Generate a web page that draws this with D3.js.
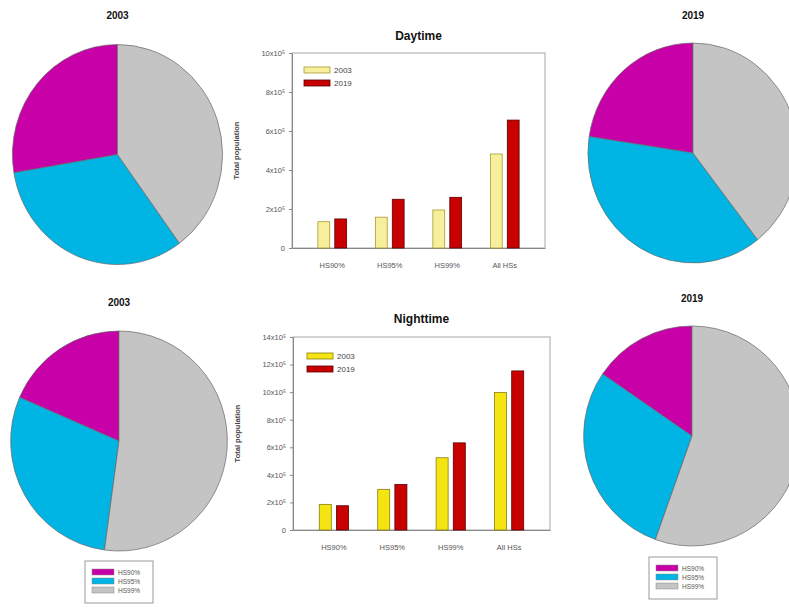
<!DOCTYPE html>
<html>
<head>
<meta charset="utf-8">
<script src="https://cdn.jsdelivr.net/npm/d3@7"></script>
<style>
  html, body { margin: 0; padding: 0; background: #fff; }
  svg { display: block; font-family: "Liberation Sans", Arial, sans-serif; }
</style>
</head>
<body>
<svg id="chart" width="789" height="609"></svg>
<script>
// Heat-stress zones and the two survey years
const categories = ["HS90%", "HS95%", "HS99%", "All HSs"];
const years = ["2003", "2019"];
const zones = ["HS90%", "HS95%", "HS99%"];

// Exposed population (x10^5) per zone
const day2003 = [1.35, 1.58, 1.95, 4.82];
const day2019 = [1.49, 2.50, 2.60, 6.56];
const night2003 = [1.86, 2.95, 5.24, 9.97];
const night2019 = [1.76, 3.31, 6.32, 11.54];

const dayTicks = [0, 2, 4, 6, 8, 10];
const nightTicks = [0, 2, 4, 6, 8, 10, 12, 14];

const zoneColors = ["#c800a8", "#00b4e4", "#c4c4c4"];

const svg = d3.select("#chart");

// ---------- pie charts: shares of each zone (the first three categories) ----------
function drawPie(cx, cy, r, sx, values, title, titleY) {
  const g = svg.append("g").attr("transform", `translate(${cx},${cy}) scale(${sx},1)`);
  // counter-clockwise from 12 o'clock: HS90% first
  const pie = d3.pie().sort(null).startAngle(0).endAngle(-2 * Math.PI);
  const arc = d3.arc().innerRadius(0).outerRadius(r);
  g.selectAll("path")
    .data(pie(values.slice(0, 3)))
    .join("path")
    .attr("d", arc)
    .attr("fill", (d, i) => zoneColors[i])
    .attr("stroke", "#666")
    .attr("stroke-width", 0.7);
  svg.append("text")
    .attr("x", cx).attr("y", titleY)
    .attr("text-anchor", "middle")
    .attr("font-size", 10).attr("font-weight", "bold")
    .attr("fill", "#111")
    .text(title);
}

drawPie(117.5, 154.5, 110, 0.955, day2003, "2003", 19);
drawPie(693, 153, 110, 0.955, day2019, "2019", 19);
drawPie(119, 441, 110, 0.985, night2003, "2003", 306);
drawPie(692, 436, 110, 0.985, night2019, "2019", 302);

// ---------- pie legends ----------
function drawPieLegend(x, y) {
  const g = svg.append("g").attr("transform", `translate(${x},${y})`);
  g.append("rect").attr("width", 68).attr("height", 42)
    .attr("fill", "#fff").attr("stroke", "#999").attr("stroke-width", 1);
  zones.forEach((z, i) => {
    g.append("rect").attr("x", 7).attr("y", 8 + i * 9).attr("width", 22).attr("height", 6)
      .attr("fill", zoneColors[i]).attr("stroke", "#888").attr("stroke-width", 0.5);
    g.append("text").attr("x", 33).attr("y", 14 + i * 9)
      .attr("font-size", 6.5).attr("fill", "#555").text(z);
  });
}
drawPieLegend(85, 561);
drawPieLegend(649, 557);

// ---------- grouped bar charts ----------
function drawBars(opts) {
  const { left, right, top, bottom, max, ticks, v2003, v2019, title, titleY, yellow, yellowStroke, legendY, legendX } = opts;
  const g = svg.append("g");

  const x0 = d3.scaleBand().domain(categories).range([left, right])
    .paddingInner(0.5).paddingOuter(0.45);
  const x1 = d3.scaleBand().domain(years).range([0, x0.bandwidth()]).paddingInner(0.3);
  const y = d3.scaleLinear().domain([0, max]).range([bottom, top]);

  // frame
  g.append("rect").attr("x", left).attr("y", top)
    .attr("width", right - left).attr("height", bottom - top)
    .attr("fill", "none").attr("stroke", "#a8a8a8").attr("stroke-width", 1);

  // y axis
  const yAxis = d3.axisLeft(y).tickValues(ticks).tickSize(3).tickPadding(4)
    .tickFormat(d => d === 0 ? "0" : d + "x10\u2075");
  const ya = g.append("g").attr("transform", `translate(${left},0)`).call(yAxis);
  ya.select(".domain").attr("stroke", "#888");
  ya.selectAll(".tick line").attr("stroke", "#888");
  ya.selectAll("text").attr("font-size", 7.5).attr("fill", "#555");

  // x axis labels
  const xAxis = d3.axisBottom(x0).tickSize(0).tickPadding(15);
  const xa = g.append("g").attr("transform", `translate(0,${bottom})`).call(xAxis);
  xa.select(".domain").attr("stroke", "#888");
  xa.selectAll("text").attr("font-size", 7.5).attr("fill", "#555");

  // bars
  const rows = categories.map((c, i) => ({ cat: c, vals: [v2003[i], v2019[i]] }));
  const grp = g.selectAll(".grp").data(rows).join("g")
    .attr("transform", d => `translate(${x0(d.cat)},0)`);
  grp.selectAll("rect")
    .data(d => d.vals.map((v, k) => ({ year: years[k], v })))
    .join("rect")
    .attr("x", d => x1(d.year))
    .attr("y", d => y(d.v))
    .attr("width", x1.bandwidth())
    .attr("height", d => bottom - y(d.v))
    .attr("fill", d => d.year === "2003" ? yellow : "#c80000")
    .attr("stroke", d => d.year === "2003" ? yellowStroke : "#5a0000")
    .attr("stroke-width", 0.8);

  // title
  svg.append("text").attr("x", (left + right) / 2).attr("y", titleY)
    .attr("text-anchor", "middle").attr("font-size", 12).attr("font-weight", "bold")
    .attr("fill", "#111").text(title);

  // y label
  svg.append("text")
    .attr("transform", `translate(${left - 53},${(top + bottom) / 2}) rotate(-90)`)
    .attr("text-anchor", "middle").attr("font-size", 7.5).attr("font-weight", "bold")
    .attr("fill", "#444").text("Total population");

  // legend
  const lg = svg.append("g").attr("transform", `translate(${legendX},${legendY})`);
  years.forEach((yr, k) => {
    lg.append("rect").attr("x", 0).attr("y", k * 13 - 3).attr("width", 26).attr("height", 6)
      .attr("fill", k === 0 ? yellow : "#c80000")
      .attr("stroke", k === 0 ? yellowStroke : "#5a0000").attr("stroke-width", 0.8);
    lg.append("text").attr("x", 30).attr("y", k * 13 + 3)
      .attr("font-size", 8).attr("fill", "#444").text(yr);
  });
}

drawBars({
  left: 292, right: 545, top: 53, bottom: 248, max: 10, ticks: dayTicks,
  v2003: day2003, v2019: day2019, title: "Daytime", titleY: 40,
  yellow: "#f6f09c", yellowStroke: "#a89a30", legendX: 304, legendY: 70
});

drawBars({
  left: 293, right: 550, top: 337, bottom: 530, max: 14, ticks: nightTicks,
  v2003: night2003, v2019: night2019, title: "Nighttime", titleY: 323,
  yellow: "#f4e412", yellowStroke: "#8a7e10", legendX: 307, legendY: 356
});
</script>
</body>
</html>
